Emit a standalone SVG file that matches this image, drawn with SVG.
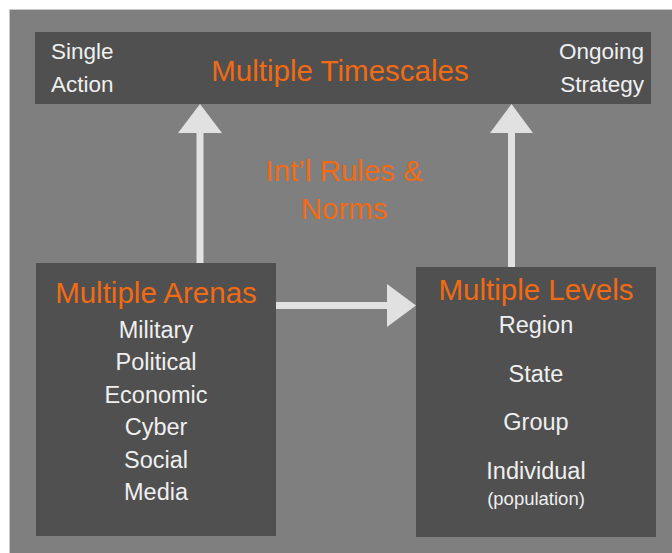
<svg xmlns="http://www.w3.org/2000/svg" width="672" height="553" viewBox="0 0 672 553">
  <style>
    .box { fill: #505050; }
    .arrow { fill: #e1e1e1; }
    text { font-family: "Liberation Sans", Arial, sans-serif; }
    .title { fill: #f26a12; font-size: 29.5px; text-anchor: middle; }
    .item { fill: #efefef; font-size: 23.5px; text-anchor: middle; }
    .small { fill: #efefef; font-size: 18.5px; text-anchor: middle; }
    .corner { fill: #efefef; font-size: 22.5px; }
  </style>

  <!-- page and panel -->
  <rect x="0" y="0" width="672" height="553" fill="#ffffff"/>
  <rect x="9.5" y="9.5" width="670" height="550" fill="#7f7f7f" stroke="#c9c9c9" stroke-width="1"/>

  <!-- connectors -->
  <g id="connectors">
    <!-- Multiple Arenas up to the timescale bar -->
    <rect class="arrow" x="196.5" y="132" width="7" height="131"/>
    <polygon class="arrow" points="200,104 178,133 222,133"/>
    <!-- Multiple Levels up to the timescale bar -->
    <rect class="arrow" x="508" y="132" width="7" height="135"/>
    <polygon class="arrow" points="511.5,104 490,133 533,133"/>
    <!-- Multiple Arenas to Multiple Levels -->
    <rect class="arrow" x="276" y="302" width="112" height="7"/>
    <polygon class="arrow" points="387,284 416,305.5 387,327"/>
  </g>

  <g id="timescales">
    <rect class="box" x="35" y="32" width="616" height="72"/>
    <text class="corner" x="51" y="59">Single</text>
    <text class="corner" x="51" y="92">Action</text>
    <text class="title" x="340" y="81" font-size="30px">Multiple Timescales</text>
    <text class="corner" x="644" y="59" text-anchor="end">Ongoing</text>
    <text class="corner" x="644" y="92" text-anchor="end">Strategy</text>
  </g>

  <g id="rules">
    <text class="title" x="344" y="181">Int’l Rules &amp;</text>
    <text class="title" x="344" y="219">Norms</text>
  </g>

  <g id="arenas">
    <rect class="box" x="36" y="263" width="240" height="273"/>
    <text class="title" x="156" y="303">Multiple Arenas</text>
    <text class="item" x="156" y="338">Military</text>
    <text class="item" x="156" y="370">Political</text>
    <text class="item" x="156" y="403">Economic</text>
    <text class="item" x="156" y="435">Cyber</text>
    <text class="item" x="156" y="468">Social</text>
    <text class="item" x="156" y="500">Media</text>
  </g>

  <g id="levels">
    <rect class="box" x="416" y="267" width="240" height="270"/>
    <text class="title" x="536" y="300">Multiple Levels</text>
    <text class="item" x="536" y="333">Region</text>
    <text class="item" x="536" y="382">State</text>
    <text class="item" x="536" y="430">Group</text>
    <text class="item" x="536" y="479">Individual</text>
    <text class="small" x="536" y="505">(population)</text>
  </g>
</svg>
